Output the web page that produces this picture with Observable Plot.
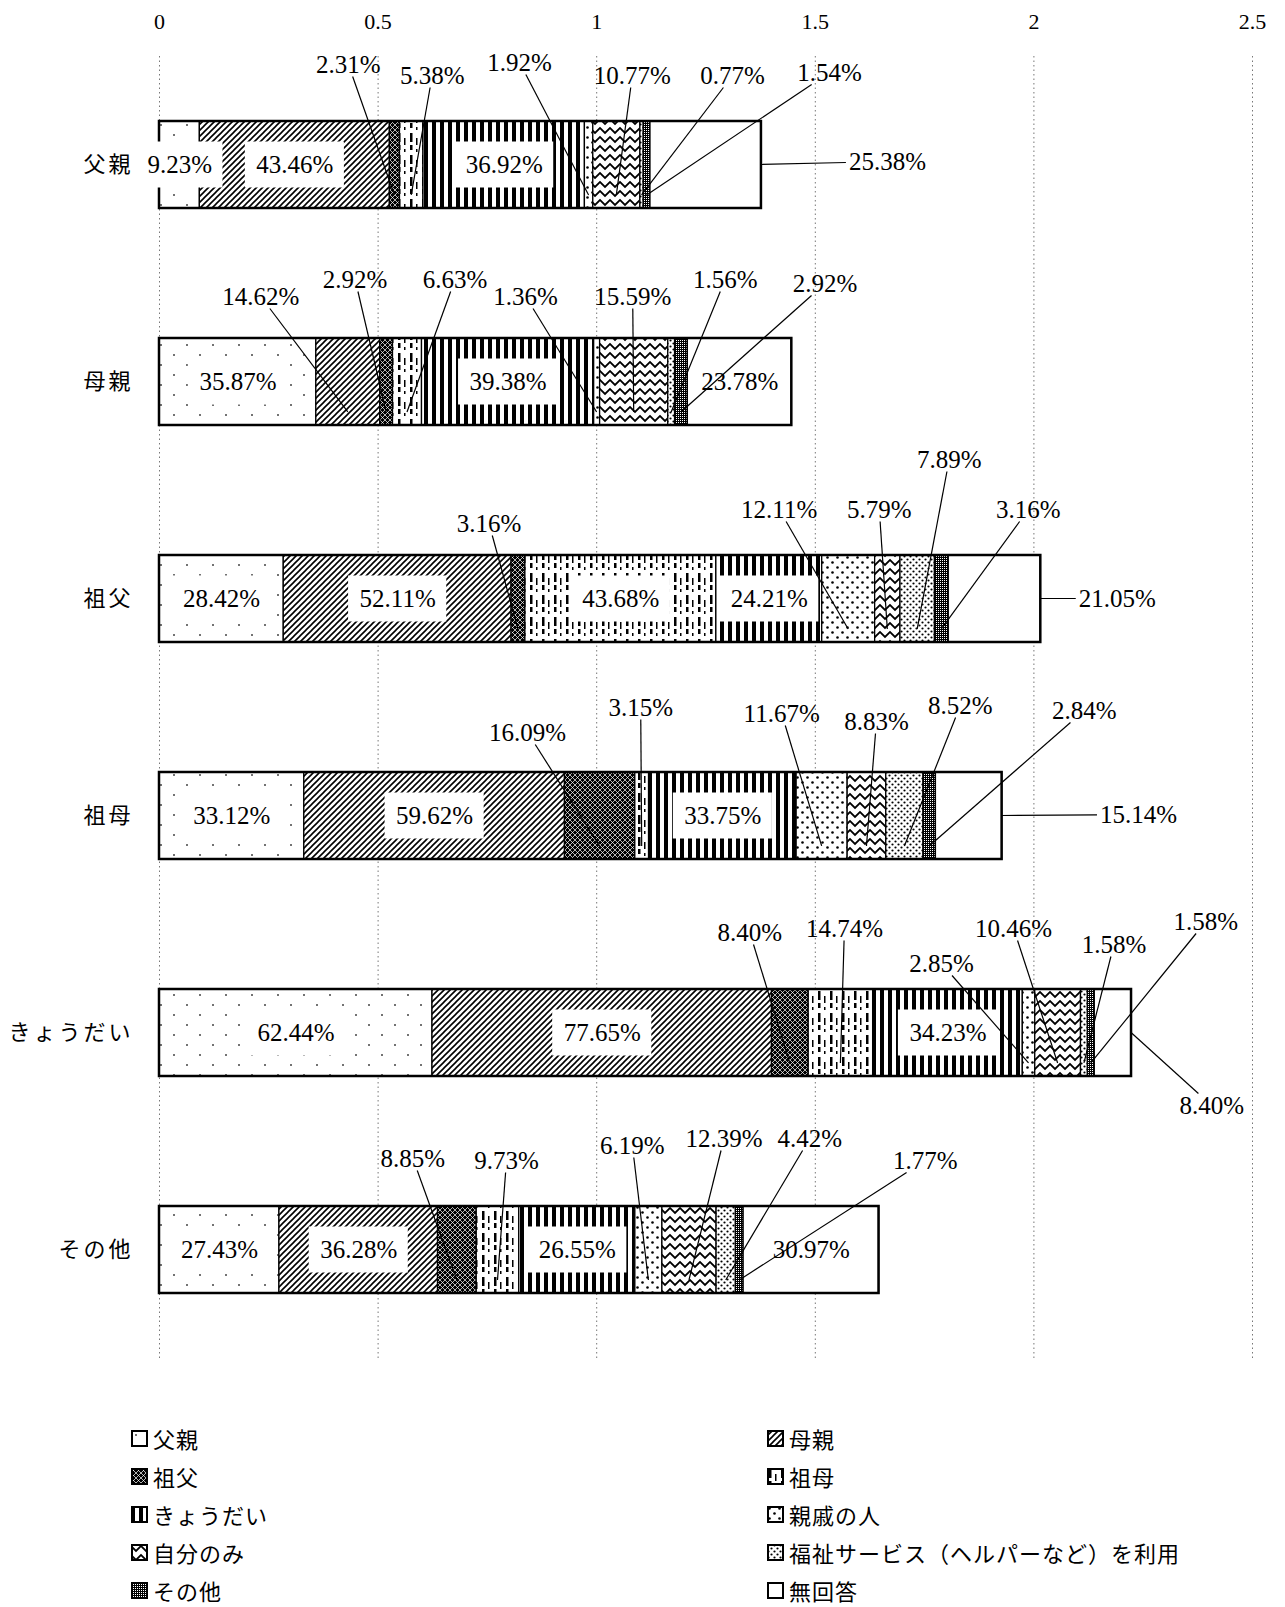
<!DOCTYPE html>
<html><head><meta charset="utf-8">
<script src="https://cdn.jsdelivr.net/npm/d3@7"></script>
<script src="https://cdn.jsdelivr.net/npm/@observablehq/plot@0.6"></script>
<style>
body{margin:0;background:#fff;width:1285px;}
#legend{display:grid;grid-template-columns:636px auto;padding-left:131px;margin-top:41px;font-family:"Noto Sans CJK JP";font-size:22px;letter-spacing:1px;color:#000}
.item{display:flex;align-items:center;height:38px;white-space:nowrap}
.item svg{margin-right:5px;flex:none}
</style></head><body>
<div id="chart"></div><div id="legend"></div>
<script>
// ---- data ----
const rows = ["父親", "母親", "祖父", "祖母", "きょうだい", "その他"];
const series = ["父親", "母親", "祖父", "祖母", "きょうだい", "親戚の人", "自分のみ", "福祉サービス（ヘルパーなど）を利用", "その他", "無回答"];
const pctFather      = [9.23, 43.46, 2.31, 5.38, 36.92, 1.92, 10.77, 0.77, 1.54, 25.38];
const pctMother      = [35.87, 14.62, 2.92, 6.63, 39.38, 1.36, 15.59, 1.56, 2.92, 23.78];
const pctGrandfather = [28.42, 52.11, 3.16, 43.68, 24.21, 12.11, 5.79, 7.89, 3.16, 21.05];
const pctGrandmother = [33.12, 59.62, 16.09, 3.15, 33.75, 11.67, 8.83, 8.52, 2.84, 15.14];
const pctSiblings    = [62.44, 77.65, 8.40, 14.74, 34.23, 2.85, 10.46, 1.58, 1.58, 8.40];
const pctOther       = [27.43, 36.28, 8.85, 9.73, 26.55, 6.19, 12.39, 4.42, 1.77, 30.97];
const rowValues = [pctFather, pctMother, pctGrandfather, pctGrandmother, pctSiblings, pctOther];
const ticks = [0, 0.5, 1, 1.5, 2, 2.5];
const tickLabels = ["0", "0.5", "1", "1.5", "2", "2.5"];

// ---- label layout (annotation placement: "in" = centred in segment, else pixel offset from segment centre) ----
const labelLayout = [
  ["in","in",[-46,-100],[21,-89],"in",[-69,-102],[16,-89],[91,-89],[183,-92],[182,-3]],
  ["in",[-87,-85],[-31,-102],[48,-102],"in",[-71,-85],[-1,-85],[54,-102],[144,-98],"in"],
  ["in","in",[-29,-75],"in","in",[-69,-89],[-8,-89],[32,-139],[87,-89],[123,0]],
  ["in","in",[-72,-83],[-1,-108],"in",[-40,-102],[10,-94],[56,-110],[155,-105],[170,-1]],
  ["in","in",[-40,-100],[4,-104],"in",[-87,-69],[-44,-104],[30,-88],[115,-111],[99,73]],
  ["in","in",[-44,-91],[9,-89],"in",[-16,-104],[35,-111],[84,-111],[186,-89],"in"]
];

const LABEL_FONT = 25;
const fmt = v => v.toFixed(2) + "%";
const data = rows.flatMap((r, ri) => {
  let cum = 0;
  return rowValues[ri].map((v, si) => {
    const d = {row: r, series: series[si], si, value: v / 100, start: cum / 100, pct: v, place: labelLayout[ri][si]};
    cum += v;
    return d;
  });
});
const totals = rows.map((r, ri) => ({row: r, total: d3.sum(rowValues[ri]) / 100}));

const ctx = document.createElement("canvas").getContext("2d");
ctx.font = `${LABEL_FONT}px "Liberation Serif"`;
const tw = s => ctx.measureText(s).width;

function bandInfo(scales) {
  const y = scales.y;
  let bw = y.bandwidth ? y.bandwidth() : 0;
  return {y, bw};
}

function boxesMark(index, scales) {
  const {x} = scales; const {y, bw} = bandInfo(scales);
  const g = d3.create("svg:g");
  for (const d of data) {
    if (d.place !== "in") continue;
    const xc = x(d.start + d.value / 2), yc = y(d.row) + bw / 2;
    const w = tw(fmt(d.pct)) + 22, h = 46;
    g.append("rect").attr("x", xc - w / 2).attr("y", yc - h / 2).attr("width", w).attr("height", h).attr("fill", "white");
  }
  return g.node();
}

function leadersMark(index, scales) {
  const {x} = scales; const {y, bw} = bandInfo(scales);
  const g = d3.create("svg:g");
  for (const d of data) {
    if (d.place === "in") continue;
    const [dx, dy] = d.place;
    const x1 = x(d.start), x2 = x(d.start + d.value);
    const xc = (x1 + x2) / 2, yc = y(d.row) + bw / 2;
    const lx = xc + dx, ly = yc + dy;
    let tx, ty;
    if (d.si === series.length - 1) { tx = x2; ty = yc; }
    else { tx = xc; ty = yc + bw * 0.35; }
    const label = fmt(d.pct);
    const hw = tw(label) / 2 + 3, hh = 12;
    const ddx = tx - lx, ddy = ty - ly;
    const t = Math.min(ddx ? hw / Math.abs(ddx) : Infinity, ddy ? hh / Math.abs(ddy) : Infinity);
    const sx = lx + ddx * t, sy = ly + ddy * t;
    g.append("line").attr("x1", sx).attr("y1", sy).attr("x2", tx).attr("y2", ty)
      .attr("stroke", "#000").attr("stroke-width", 1.2);
    g.append("text").attr("x", lx).attr("y", ly).attr("dy", "0.35em").attr("text-anchor", "middle")
      .attr("font-family", "Liberation Serif").attr("font-size", LABEL_FONT).attr("fill", "#000").text(label);
  }
  return g.node();
}

const svg = Plot.plot({
  width: 1285,
  height: 1378,
  marginLeft: 159,
  marginRight: 33,
  marginTop: 56,
  marginBottom: 20,
  style: {fontFamily: "Liberation Serif", fontSize: "22px", background: "white", color: "black"},
  x: {domain: [0, 2.5]},
  y: {domain: rows, paddingInner: 0.6, paddingOuter: 0.3},
  color: {type: "ordinal", domain: series, range: series.map((_, i) => `url(#pat${i})`)},
  marks: [
    Plot.ruleX(ticks, {stroke: "#777", strokeDasharray: "1.5,3", strokeWidth: 1}),
    Plot.axisX(ticks, {anchor: "top", tickSize: 0, tickPadding: 28, fontSize: 22, fontFamily: "Liberation Serif", label: null, tickFormat: d => tickLabels[ticks.indexOf(d)]}),
    Plot.axisY({tickSize: 0, tickPadding: 26, fontSize: 22, fontFamily: "Noto Sans CJK JP", label: null}),
    Plot.barX(data, Plot.stackX({x: "value", y: "row", z: "series", fill: "series", stroke: "#000", strokeWidth: 1.3})),
    Plot.barX(totals, {x: "total", y: "row", fill: "none", stroke: "#000", strokeWidth: 2.5}),
    boxesMark,
    Plot.text(data, Plot.stackX({x: "value", y: "row", z: "series", text: d => d.place === "in" ? fmt(d.pct) : "", fontSize: LABEL_FONT, fontFamily: "Liberation Serif", fill: "#000"})),
    leadersMark
  ]
});

// y-axis labels: wider Mincho-like spacing
const yAxisLabels = svg.querySelector('[aria-label="y-axis tick label"]');
if (yAxisLabels) yAxisLabels.style.letterSpacing = "3px";

// patterns
function addPatterns(root) {
  const defs = d3.select(root).insert("defs", ":first-child");
  const mk = (id, w, h, bg = "white") => {
    const p = defs.append("pattern").attr("id", id).attr("patternUnits", "userSpaceOnUse").attr("width", w).attr("height", h);
    p.append("rect").attr("width", w).attr("height", h).attr("fill", bg);
    return p;
  };
  let p = mk("pat0", 26, 20);
  p.append("circle").attr("cx", 5).attr("cy", 5).attr("r", 1).attr("fill", "#444");
  p.append("circle").attr("cx", 18).attr("cy", 15).attr("r", 1).attr("fill", "#444");
  p = mk("pat1", 6, 6);
  p.append("path").attr("d", "M-1,7L7,-1M-1,1L1,-1M5,7L7,5").attr("stroke", "#000").attr("stroke-width", 1.6);
  p = mk("pat2", 5, 5, "#000");
  p.append("path").attr("d", "M0,0L5,5M5,0L0,5").attr("stroke", "#fff").attr("stroke-width", 0.7);
  p = mk("pat3", 12, 22);
  [[2,1,2.5,9],[2,13,2.5,5],[8,6,1.5,7],[8,17,1.5,3]].forEach(([a,b,c,e]) => p.append("rect").attr("x", a).attr("y", b).attr("width", c).attr("height", e).attr("fill", "#000"));
  p = mk("pat4", 8, 8);
  p.append("rect").attr("width", 4).attr("height", 8).attr("fill", "#000");
  p = mk("pat5", 10, 10);
  [[2.5,2.5],[7.5,7.5]].forEach(([a,b]) => p.append("circle").attr("cx", a).attr("cy", b).attr("r", 1.3).attr("fill", "#000"));
  p = mk("pat6", 10, 9);
  p.append("path").attr("d", "M-5,7L0,2L5,7L10,2L15,7").attr("fill", "none").attr("stroke", "#000").attr("stroke-width", 1.8);
  p = mk("pat7", 6, 6);
  [[1.5,1.5],[4.5,4.5]].forEach(([a,b]) => p.append("circle").attr("cx", a).attr("cy", b).attr("r", 1.1).attr("fill", "#000"));
  p = mk("pat8", 2, 2, "#000");
  p.append("rect").attr("width", 1).attr("height", 1).attr("fill", "#fff");
  mk("pat9", 4, 4);
}
addPatterns(svg);
document.getElementById("chart").appendChild(svg);

// legend
const legend = d3.select("#legend");
series.forEach((s, i) => {
  const item = legend.append("div").attr("class", "item");
  const ic = item.append("svg").attr("width", 17).attr("height", 17);
  ic.append("rect").attr("x", 1).attr("y", 1).attr("width", 15).attr("height", 15).attr("fill", `url(#pat${i})`).attr("stroke", "#000").attr("stroke-width", 2);
  item.append("span").text(s);
});
</script></body></html>
